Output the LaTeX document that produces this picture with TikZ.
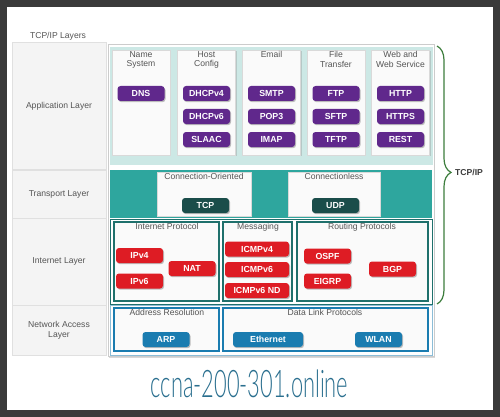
\documentclass[tikz,border=0pt]{standalone}
\usepackage{fontspec}
\setmainfont{Liberation Sans}
\newfontfamily\markfont{Lato Light}
\usetikzlibrary{shadows,decorations.pathreplacing}

\definecolor{framec}{RGB}{58,58,58}
\definecolor{txtc}{RGB}{85,85,85}
\definecolor{cellc}{RGB}{244,244,244}
\definecolor{appc}{RGB}{96,40,140}
\definecolor{appbg}{RGB}{204,232,229}
\definecolor{trbg}{RGB}{46,166,158}
\definecolor{tcpc}{RGB}{26,77,74}
\definecolor{intc}{RGB}{31,112,108}
\definecolor{ipc}{RGB}{222,28,36}
\definecolor{nac}{RGB}{26,124,176}
\definecolor{bracec}{RGB}{60,125,60}
\definecolor{markc}{RGB}{42,111,143}

\begin{document}
\begin{tikzpicture}[x=1pt,y=-1pt,
    txt/.style={text=txtc,font=\fontsize{8.6}{9.8}\selectfont,align=center,inner sep=0pt},
    cell/.style={txt,draw=black!12,fill=cellc,line width=1pt},
    col/.style={draw=black!15,fill=black!2,inner sep=0pt,minimum width=58pt,minimum height=105pt,
      drop shadow={shadow xshift=1pt,shadow yshift=-1pt,opacity=.3}},
    box/.style={draw=black!15,fill=black!2,inner sep=0pt,minimum height=44pt},
    ibox/.style={draw=intc,line width=1.3pt,fill=black!2,inner sep=0pt,minimum height=79pt},
    nbox/.style={draw=nac,line width=1.3pt,fill=black!2,inner sep=0pt,minimum height=43pt},
    pill/.style={rounded corners=3pt,text=white,font=\bfseries\fontsize{8.8}{9.8}\selectfont,
      minimum width=47pt,minimum height=15pt,inner sep=0pt,
      drop shadow={shadow xshift=1pt,shadow yshift=-1.2pt,opacity=.5}},
    app/.style={pill,fill=appc},
    tr/.style={pill,fill=tcpc},
    ip/.style={pill,fill=ipc},
    na/.style={pill,fill=nac}]
      \useasboundingbox (0,0) rectangle (500,417);
      \node[fill=framec,minimum width=500pt,minimum height=417pt,inner sep=0pt] (frame) at (250,208.5) {};
      \node[fill=white,minimum width=486pt,minimum height=403pt,inner sep=0pt] (page) at (250,208.5) {};

      \node[txt] (title) at (58,36) {TCP/IP Layers};

      % layer names
      \node[cell,minimum width=94pt,minimum height=126pt] (appl) at (59,106) {Application Layer};
      \node[cell,minimum width=94pt,minimum height=48pt]  (trl)  at (59,194) {Transport Layer};
      \node[cell,minimum width=94pt,minimum height=87pt]  (intl) at (59,261.5) {Internet Layer};
      \node[cell,minimum width=94pt,minimum height=50pt]  (nal)  at (59,330.5) {Network Access\\Layer};

      \node[draw=black!20,fill=white,minimum width=326pt,minimum height=312pt,inner sep=0pt,
        drop shadow={shadow xshift=1pt,shadow yshift=-1pt,opacity=.3}] (main) at (271,200.5) {};

      % application layer
      \node[fill=appbg,minimum width=323pt,minimum height=118pt,inner sep=0pt] (appbox) at (271.5,106) {};
      \node[col] (dnscol)  at (141,102.5) {};
      \node[col] (hostcol) at (206.5,102.5) {};
      \node[col] (mailcol) at (271.5,102.5) {};
      \node[col] (filecol) at (336,102.5) {};
      \node[col] (webcol)  at (400.5,102.5) {};
      \node[txt,anchor=north] (dnsh)  at (141,51)   {Name\\System};
      \node[txt,anchor=north] (hosth) at (206.5,51) {Host\\Config};
      \node[txt,anchor=north] (mailh) at (271.5,51) {Email};
      \node[txt,anchor=north] (fileh) at (336,51)   {File\\Transfer};
      \node[txt,anchor=north] (webh)  at (400.5,51) {Web and\\Web Service};
      \node[app] (dns)    at (141,93.5)    {DNS};
      \node[app] (dhcp4)  at (206.5,93.5)  {DHCPv4};
      \node[app] (dhcp6)  at (206.5,116.5) {DHCPv6};
      \node[app] (slaac)  at (206.5,139.5) {SLAAC};
      \node[app] (smtp)   at (271.5,93.5)  {SMTP};
      \node[app] (pop3)   at (271.5,116.5) {POP3};
      \node[app] (imap)   at (271.5,139.5) {IMAP};
      \node[app] (ftp)    at (336,93.5)    {FTP};
      \node[app] (sftp)   at (336,116.5)   {SFTP};
      \node[app] (tftp)   at (336,139.5)   {TFTP};
      \node[app] (http)   at (400.5,93.5)  {HTTP};
      \node[app] (https)  at (400.5,116.5) {HTTPS};
      \node[app] (rest)   at (400.5,139.5) {REST};

      % transport layer
      \node[fill=trbg,minimum width=322pt,minimum height=48pt,inner sep=0pt] (trbox) at (271,194) {};
      \node[box,minimum width=94pt] (cobox) at (204,194) {};
      \node[box,minimum width=92pt] (clbox) at (334,194) {};
      \node[txt,anchor=north] (coh) at (204,173) {Connection-Oriented};
      \node[txt,anchor=north] (clh) at (334,173) {Connectionless};
      \node[tr] (tcp) at (205.5,205.5) {TCP};
      \node[tr] (udp) at (335.5,205.5) {UDP};

      % internet layer
      \node[draw=intc,fill=white,minimum width=322pt,minimum height=85pt,inner sep=0pt] (intbox) at (271,261.5) {};
      \node[ibox,minimum width=105pt] (ipbox)  at (166.5,261.5) {};
      \node[ibox,minimum width=69pt]  (msgbox) at (257.5,261.5) {};
      \node[ibox,minimum width=131pt] (rtbox)  at (362.5,261.5) {};
      \node[txt,anchor=north] (iph)  at (167,223) {Internet Protocol};
      \node[txt,anchor=north] (msgh) at (258,223) {Messaging};
      \node[txt,anchor=north] (rth)  at (362,223) {Routing Protocols};
      \node[ip] (ipv4)   at (139.5,255.5) {IPv4};
      \node[ip] (ipv6)   at (139.5,281)   {IPv6};
      \node[ip] (nat)    at (192,268.5)   {NAT};
      \node[ip,minimum width=64pt] (icmp4)  at (257,249)   {ICMPv4};
      \node[ip,minimum width=64pt] (icmp6)  at (257,269.5) {ICMPv6};
      \node[ip,minimum width=64pt] (icmpnd) at (257,290.5) {ICMPv6 ND};
      \node[ip] (ospf)   at (327.5,256)   {OSPF};
      \node[ip] (eigrp)  at (327.5,281)   {EIGRP};
      \node[ip] (bgp)    at (392.5,269)   {BGP};

      % network access layer
      \node[draw=nac!50,fill=white,minimum width=322pt,minimum height=50pt,inner sep=0pt] (nabox) at (271,330.5) {};
      \node[nbox,minimum width=105pt] (arbox) at (166.5,329.5) {};
      \node[nbox,minimum width=205pt] (dlbox) at (325.5,329.5) {};
      \node[txt,anchor=north] (arh) at (167,309) {Address Resolution};
      \node[txt,anchor=north] (dlh) at (325,309) {Data Link Protocols};
      \node[na] (arp)  at (166,339.5)   {ARP};
      \node[na,minimum width=70pt] (eth)  at (268,339.5) {Ethernet};
      \node[na] (wlan) at (378.5,339.5) {WLAN};

      % brace
      \coordinate (btop) at (437,46);
      \coordinate (bbot) at (437,304);
      \draw[bracec,line width=1.2pt,decorate,decoration={brace,amplitude=14pt,aspect=0.49}] (btop) -- (bbot);
      \node[font=\bfseries\fontsize{8.6}{9.8}\selectfont,text=txtc!70!black,anchor=west,inner sep=0pt] (tcpip) at (455,172) {TCP/IP};

      \node[text=markc,font=\markfont\fontsize{38}{40}\selectfont,inner sep=0pt] (mark) at (249.5,384) {\scalebox{0.575}[1]{ccna-200-301.online}};
    \end{tikzpicture}
\end{document}
